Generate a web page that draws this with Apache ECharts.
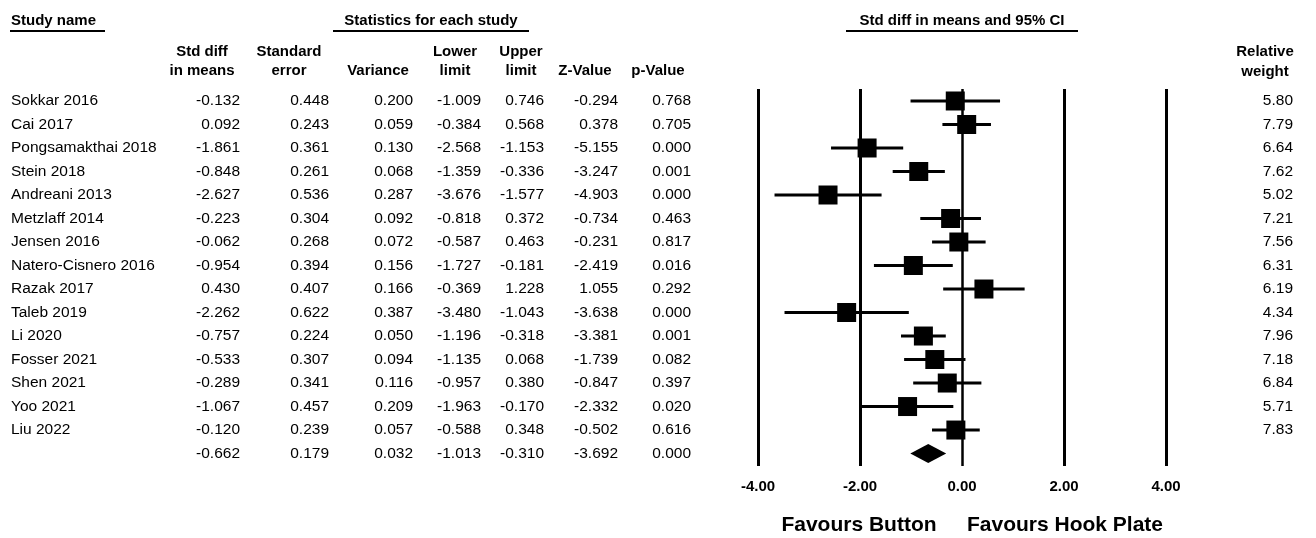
<!DOCTYPE html>
<html>
<head>
<meta charset="utf-8">
<script src="https://cdn.jsdelivr.net/npm/echarts@6/dist/echarts.min.js"></script>
<style>
  html, body { margin: 0; padding: 0; background: #fff; }
  #chart { width: 1316px; height: 538px; }
</style>
</head>
<body>
<div id="chart"></div>
<script>
// Study-level results (standardised difference in means, random effects)
const studies = [
  'Sokkar 2016', 'Cai 2017', 'Pongsamakthai 2018', 'Stein 2018', 'Andreani 2013',
  'Metzlaff 2014', 'Jensen 2016', 'Natero-Cisnero 2016', 'Razak 2017', 'Taleb 2019',
  'Li 2020', 'Fosser 2021', 'Shen 2021', 'Yoo 2021', 'Liu 2022'
];
const stdDiff    = [-0.132, 0.092, -1.861, -0.848, -2.627, -0.223, -0.062, -0.954, 0.430, -2.262, -0.757, -0.533, -0.289, -1.067, -0.120];
const stdErr     = [0.448, 0.243, 0.361, 0.261, 0.536, 0.304, 0.268, 0.394, 0.407, 0.622, 0.224, 0.307, 0.341, 0.457, 0.239];
const variance   = [0.200, 0.059, 0.130, 0.068, 0.287, 0.092, 0.072, 0.156, 0.166, 0.387, 0.050, 0.094, 0.116, 0.209, 0.057];
const lowerLimit = [-1.009, -0.384, -2.568, -1.359, -3.676, -0.818, -0.587, -1.727, -0.369, -3.480, -1.196, -1.135, -0.957, -1.963, -0.588];
const upperLimit = [0.746, 0.568, -1.153, -0.336, -1.577, 0.372, 0.463, -0.181, 1.228, -1.043, -0.318, 0.068, 0.380, -0.170, 0.348];
const zValue     = [-0.294, 0.378, -5.155, -3.247, -4.903, -0.734, -0.231, -2.419, 1.055, -3.638, -3.381, -1.739, -0.847, -2.332, -0.502];
const pValue     = [0.768, 0.705, 0.000, 0.001, 0.000, 0.463, 0.817, 0.016, 0.292, 0.000, 0.001, 0.082, 0.397, 0.020, 0.616];
const relWeight  = [5.80, 7.79, 6.64, 7.62, 5.02, 7.21, 7.56, 6.31, 6.19, 4.34, 7.96, 7.18, 6.84, 5.71, 7.83];

// Pooled estimate: diff, SE, variance, lower, upper, Z, p
const pooledStats = [-0.662, 0.179, 0.032, -1.013, -0.310, -3.692, 0.000];

// Axis ticks and reference lines
const xTicks = [-4, -2, 0, 2, 4];

const FONT = '"Liberation Sans", Arial, sans-serif';
const TXT = 15.5;
const HDR = 15;

// Right edges of numeric table columns
const colRight = [240, 329, 413, 481, 544, 618, 691];
const nameLeft = 11;
const weightRight = 1293;

const chart = echarts.init(document.getElementById('chart'));

// Table rows: one entry per study plus the pooled row
const tableRows = studies.map((s, i) => [0, i]);
tableRows.push([0, studies.length]);

function rowCells(i) {
  if (i < studies.length) {
    return {
      name: studies[i],
      nums: [stdDiff[i], stdErr[i], variance[i], lowerLimit[i], upperLimit[i], zValue[i], pValue[i]],
      weight: relWeight[i]
    };
  }
  return { name: '', nums: pooledStats, weight: null };
}

function txt(x, y, text, align, size, bold) {
  return {
    type: 'text',
    x: x, y: y,
    style: {
      text: text, fill: '#000',
      font: (bold ? 'bold ' : '') + size + 'px ' + FONT,
      textAlign: align, textVerticalAlign: 'middle'
    }
  };
}

const forestData = studies.map((s, i) => [stdDiff[i], i, lowerLimit[i], upperLimit[i]]);
const pooledData = [[pooledStats[0], studies.length, pooledStats[3], pooledStats[4]]];

const BOX = 19;

const option = {
  animation: false,
  backgroundColor: '#fff',
  grid: { left: 758, right: 150, top: 89, bottom: 72 },
  xAxis: {
    type: 'value', min: -4, max: 4, interval: 2,
    axisLine: { show: false }, axisTick: { show: false }, splitLine: { show: false },
    axisLabel: {
      margin: 13, color: '#000', fontFamily: FONT, fontWeight: 'bold', fontSize: 15,
      formatter: v => v.toFixed(2)
    }
  },
  yAxis: {
    type: 'value', min: -0.51, max: 15.53, inverse: true, show: false
  },
  series: [
    {
      // statistics table, aligned on the plot rows
      type: 'custom',
      data: tableRows,
      encode: { x: 0, y: 1 },
      clip: false,
      silent: true,
      renderItem: function (params, api) {
        const row = api.value(1);
        const y = api.coord([0, row])[1];
        const c = rowCells(row);
        const kids = [];
        if (c.name) kids.push(txt(nameLeft, y, c.name, 'left', TXT, false));
        c.nums.forEach((v, k) => kids.push(txt(colRight[k], y, v.toFixed(3), 'right', TXT, false)));
        if (c.weight !== null) kids.push(txt(weightRight, y, c.weight.toFixed(2), 'right', TXT, false));
        return { type: 'group', children: kids };
      }
    },
    {
      // study estimates with 95% CI
      type: 'custom',
      data: forestData,
      encode: { x: [0, 2, 3], y: 1 },
      clip: false,
      renderItem: function (params, api) {
        const r = api.value(1);
        const c = api.coord([api.value(0), r]);
        const lo = api.coord([api.value(2), r]);
        const hi = api.coord([api.value(3), r]);
        return {
          type: 'group',
          children: [
            { type: 'line', shape: { x1: lo[0], y1: lo[1], x2: hi[0], y2: hi[1] }, style: { stroke: '#000', lineWidth: 3 } },
            { type: 'rect', shape: { x: c[0] - BOX / 2, y: c[1] - BOX / 2, width: BOX, height: BOX }, style: { fill: '#000' } }
          ]
        };
      },
      markLine: {
        silent: true, symbol: 'none', label: { show: false },
        data: xTicks.map(v => ({ xAxis: v, lineStyle: { color: '#000', type: 'solid', width: v === 0 ? 2.5 : 3 } }))
      },
      z: 3
    },
    {
      // pooled estimate diamond
      type: 'custom',
      data: pooledData,
      encode: { x: [0, 2, 3], y: 1 },
      clip: false,
      renderItem: function (params, api) {
        const r = api.value(1);
        const c = api.coord([api.value(0), r]);
        const lo = api.coord([api.value(2), r]);
        const hi = api.coord([api.value(3), r]);
        return {
          type: 'polygon',
          shape: { points: [[lo[0], c[1]], [c[0], c[1] - 9.5], [hi[0], c[1]], [c[0], c[1] + 9.5]] },
          style: { fill: '#000' }
        };
      },
      z: 4
    }
  ],
  graphic: [
    // section titles with underlines
    txt(11, 21, 'Study name', 'left', HDR, true),
    { type: 'line', shape: { x1: 10, y1: 31, x2: 105, y2: 31 }, style: { stroke: '#000', lineWidth: 2 } },
    txt(431, 21, 'Statistics for each study', 'center', HDR, true),
    { type: 'line', shape: { x1: 333, y1: 31, x2: 529, y2: 31 }, style: { stroke: '#000', lineWidth: 2 } },
    txt(962, 21, 'Std diff in means and 95% CI', 'center', HDR, true),
    { type: 'line', shape: { x1: 846, y1: 31, x2: 1078, y2: 31 }, style: { stroke: '#000', lineWidth: 2 } },
    // column headers
    txt(202, 52, 'Std diff', 'center', HDR, true),
    txt(202, 71, 'in means', 'center', HDR, true),
    txt(289, 52, 'Standard', 'center', HDR, true),
    txt(289, 71, 'error', 'center', HDR, true),
    txt(378, 71, 'Variance', 'center', HDR, true),
    txt(455, 52, 'Lower', 'center', HDR, true),
    txt(455, 71, 'limit', 'center', HDR, true),
    txt(521, 52, 'Upper', 'center', HDR, true),
    txt(521, 71, 'limit', 'center', HDR, true),
    txt(585, 71, 'Z-Value', 'center', HDR, true),
    txt(658, 71, 'p-Value', 'center', HDR, true),
    txt(1265, 52, 'Relative', 'center', HDR, true),
    txt(1265, 72, 'weight', 'center', HDR, true),
    // direction labels
    txt(859, 525, 'Favours Button', 'center', 21, true),
    txt(1065, 525, 'Favours Hook Plate', 'center', 21, true)
  ]
};

chart.setOption(option);
</script>
</body>
</html>
